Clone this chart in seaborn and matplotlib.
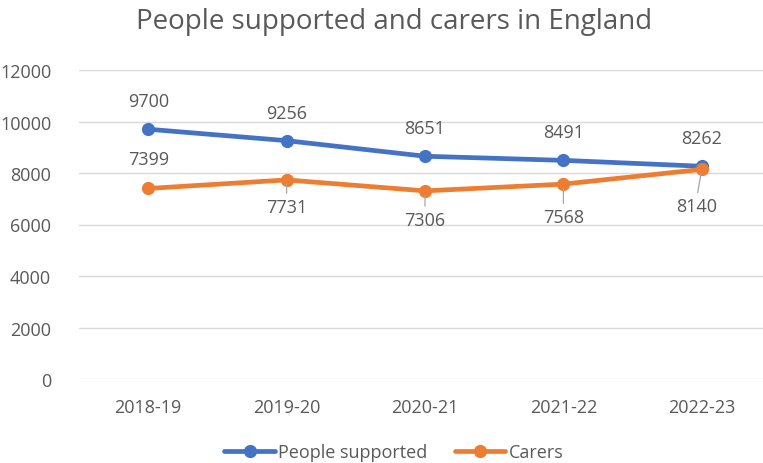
import matplotlib
matplotlib.use("Agg")
import matplotlib.pyplot as plt
import seaborn as sns
import pandas as pd

years = ["2018-19", "2019-20", "2020-21", "2021-22", "2022-23"]
people_supported = [9700, 9256, 8651, 8491, 8262]
carers = [7399, 7731, 7306, 7568, 8140]
series_names = ["People supported", "Carers"]
y_ticks = [0, 2000, 4000, 6000, 8000, 10000, 12000]
title = "People supported and carers in England"

df = pd.DataFrame({
    "year": years * 2,
    "value": people_supported + carers,
    "series": [series_names[0]] * len(years) + [series_names[1]] * len(years),
})

sns.set_theme(style="white")
plt.rcParams["font.family"] = ["Open Sans", "DejaVu Sans"]
GRAY = "#595959"
BLUE = "#4472C4"
ORANGE = "#ED7D31"
FS = 13.0

fig = plt.figure(figsize=(7.63, 4.64), dpi=100)
ax = fig.add_axes([79 / 763, 84 / 464, 692 / 763, 309 / 464])

sns.lineplot(data=df, x="year", y="value", hue="series",
             palette={series_names[0]: BLUE, series_names[1]: ORANGE},
             marker="o", markersize=9.5, markeredgewidth=0, linewidth=3.4,
             sort=False, ax=ax)

ax.set_xlim(-0.5, len(years) - 0.5)
ax.set_ylim(0, 12000)
ax.set_yticks(y_ticks)
ax.set_yticklabels([str(v) for v in y_ticks])
ax.yaxis.grid(True, color="#D9D9D9", linewidth=1.0)
ax.xaxis.grid(False)
for s in ax.spines.values():
    s.set_visible(False)
ax.tick_params(axis="y", length=0, pad=20, labelsize=FS, labelcolor=GRAY)
ax.tick_params(axis="x", length=0, pad=14, labelsize=FS, labelcolor=GRAY)
ax.set_xlabel("")
ax.set_ylabel("")

# data labels (pixel offsets)
blue_off = [(0, 28)] * 5
orange_off = [(0, 29), (0, -27), (0, -29), (0, -33), (-5, -37)]
for i, v in enumerate(people_supported):
    ax.annotate(str(v), (i, v), xytext=blue_off[i], textcoords="offset pixels",
                ha="center", va="center", fontsize=FS, color=GRAY)
for i, v in enumerate(carers):
    dx, dy = orange_off[i]
    if dy < 0:
        ax.annotate(str(v), (i, v), xytext=(dx, dy), textcoords="offset pixels",
                    ha="center", va="center", fontsize=FS, color=GRAY,
                    arrowprops=dict(arrowstyle="-", color="#A6A6A6", lw=0.9,
                                    relpos=(0.5, 1.0), shrinkA=1, shrinkB=3))
    else:
        ax.annotate(str(v), (i, v), xytext=(dx, dy), textcoords="offset pixels",
                    ha="center", va="center", fontsize=FS, color=GRAY)

fig.text(394 / 763, 1 - 22 / 464, title, ha="center", va="center",
         fontsize=20, color=GRAY)

sns.move_legend(ax, "center", bbox_to_anchor=(394 / 763, 11 / 464),
                bbox_transform=fig.transFigure, ncol=2, frameon=False,
                title=None, fontsize=FS, handlelength=2.8,
                handletextpad=0.2, columnspacing=1.5)
for t in ax.get_legend().get_texts():
    t.set_color(GRAY)

fig.savefig("out.png", dpi=100)
